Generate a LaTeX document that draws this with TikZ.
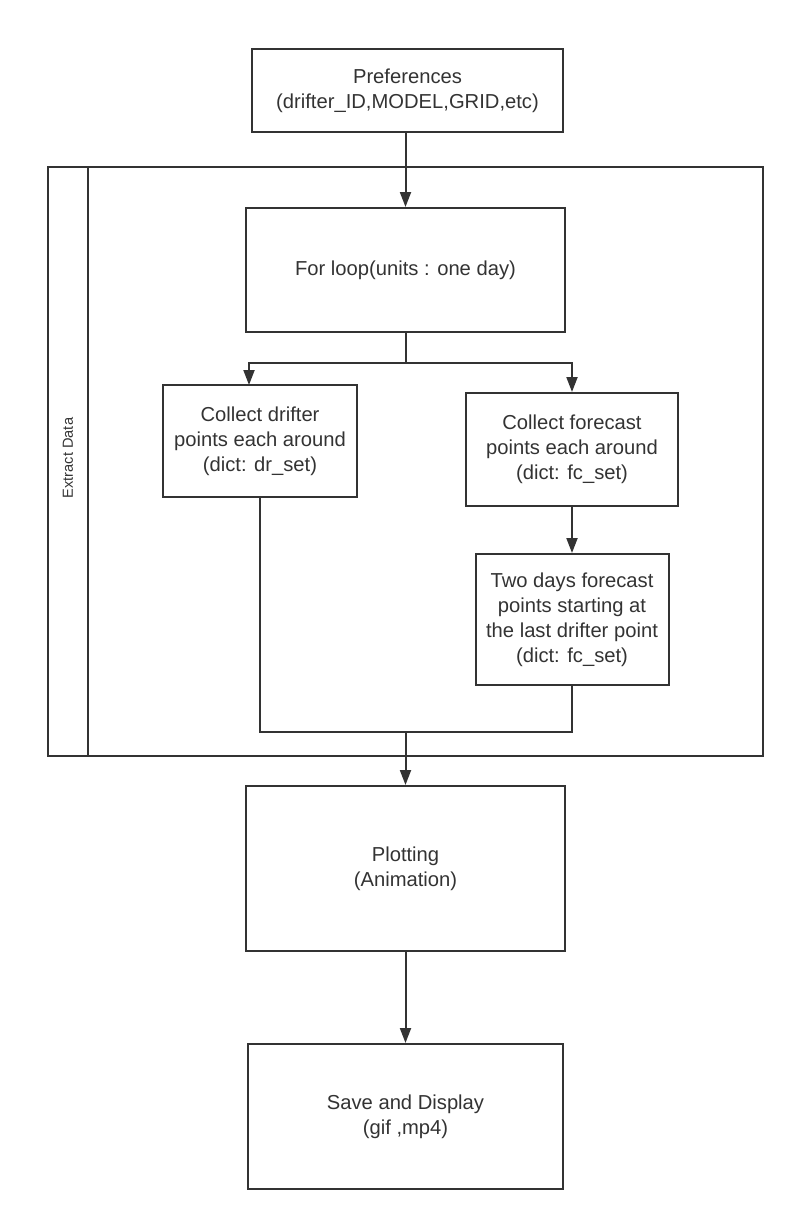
\documentclass[tikz,border=0pt]{standalone}
\usepackage{fontspec}
\setmainfont{Liberation Sans}
\usepackage{xcolor}
\definecolor{Ink}{RGB}{51,51,51}
\usepackage{tikz}
\usetikzlibrary{arrows.meta}
\tikzstyle{Box}=[rectangle,draw=Ink,line width=1pt,text=Ink,align=center,
inner sep=0pt,font=\fontsize{10.1}{12.5}\selectfont]
\tikzstyle{Edge}=[draw=Ink,line width=1pt]
\tikzstyle{Arrow}=[Edge,-{Triangle[width=5.5pt,length=7.5pt]}]
\tikzstyle{Label}=[text=Ink,font=\fontsize{7.3}{9}\selectfont,rotate=90]

\begin{document}
\begin{tikzpicture}[x=.5pt,y=-.5pt]
        \useasboundingbox(0,0)rectangle(795,1222);
        \node[Box,minimum width=155.5pt,minimum height=41.5pt](pref)at(407.5,90.5)
            {Preferences\\(drifter\_ID,MODEL,GRID,etc)};
        \draw[Edge](48,167)rectangle(763,756);
        \draw[Edge](88,167)--(88,756);
        \node[Label](ext)at(68,458){Extract Data};
        \node[Box,minimum width=159.5pt,minimum height=62pt](loop)at(405.5,270)
            {For loop(units : one day)};
        \node[Box,minimum width=97pt,minimum height=56pt](dr)at(260,441)
            {Collect drifter\\points each around\\(dict: dr\_set)};
        \node[Box,minimum width=106pt,minimum height=56.5pt](fc)at(572,449.5)
            {Collect forecast\\points each around\\(dict: fc\_set)};
        \node[Box,minimum width=96.5pt,minimum height=65.5pt](two)at(572,619.5)
            {Two days forecast\\points starting at\\the last drifter point\\(dict: fc\_set)};
        \node[Box,minimum width=159.5pt,minimum height=82.5pt](plot)at(405.5,868.5)
            {Plotting\\(Animation)};
        \node[Box,minimum width=157.5pt,minimum height=72.5pt](save)at(405.5,1116.5)
            {Save and Display\\(gif ,mp4)};
        \coordinate(s)at(405.5,363);
        \coordinate(dtop)at(249,385);
        \coordinate(m)at(405.5,732);
        \draw[Arrow](loop.north|-pref.south)--(loop.north);
        \draw[Edge](loop.south)--(s);
        \draw[Arrow](s)-|(dtop);
        \draw[Arrow](s)-|(fc.north);
        \draw[Arrow](fc.south)--(two.north);
        \draw[Edge](dr.south)|-(m)-|(two.south);
        \draw[Arrow](m)--(plot.north);
        \draw[Arrow](plot.south)--(save.north);
    \end{tikzpicture}
\end{document}
